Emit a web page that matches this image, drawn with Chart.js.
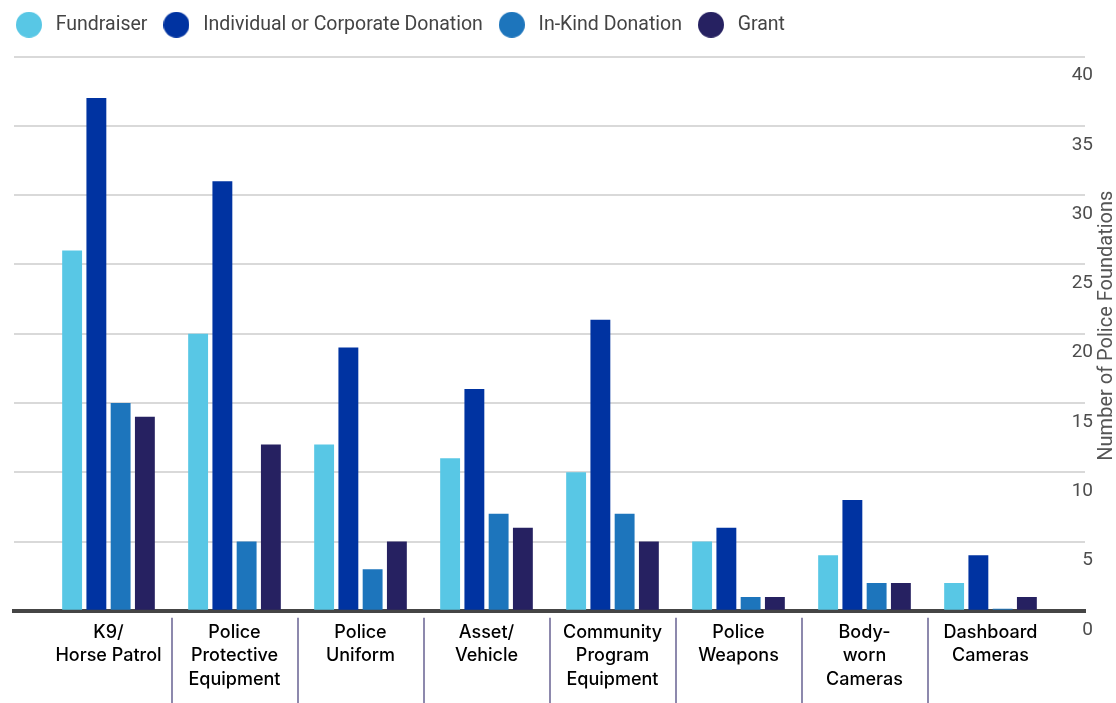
<!DOCTYPE html>
<html>
<head>
<meta charset="utf-8">
<title>Police foundation funding sources</title>
<script src="https://cdn.jsdelivr.net/npm/chart.js@4.4.1/dist/chart.umd.min.js"></script>
<style>
  html, body { margin: 0; padding: 0; background: #fff; }
  #wrap { width: 1116px; height: 703px; position: relative; }
</style>
</head>
<body>
<div id="wrap"><canvas id="fundingChart"></canvas></div>
<script>
// categories, one array of lines per label
const categories = [
  ['K9/', 'Horse Patrol'],
  ['Police', 'Protective', 'Equipment'],
  ['Police', 'Uniform'],
  ['Asset/', 'Vehicle'],
  ['Community', 'Program', 'Equipment'],
  ['Police', 'Weapons'],
  ['Body-', 'worn', 'Cameras'],
  ['Dashboard', 'Cameras']
];
const fundraiser = [26, 20, 12, 11, 10, 5, 4, 2];
const individualCorporate = [37, 31, 19, 16, 21, 6, 8, 4];
const inKind = [15, 5, 3, 7, 7, 1, 2, 0];
const grant = [14, 12, 5, 6, 5, 1, 2, 1];
const yTicks = [0, 5, 10, 15, 20, 25, 30, 35, 40];
const yTitle = 'Number of Police Foundations';

const toPoints = values => values.map((v, i) => ({ x: i, y: v }));

// round legend marker, narrower than its legend box
function dot(color) {
    const c = document.createElement('canvas');
    c.width = 26;
    c.height = 26;
    const g = c.getContext('2d');
    g.fillStyle = color;
    g.beginPath();
    g.arc(13, 13, 13, 0, Math.PI * 2);
    g.fill();
    return c;
}

const fundingData = {
    datasets: [
        { label: 'Fundraiser', data: toPoints(fundraiser), backgroundColor: '#58c7e5', pointStyle: dot('#58c7e5') },
        { label: 'Individual or Corporate Donation', data: toPoints(individualCorporate), backgroundColor: '#0033a1', pointStyle: dot('#0033a1') },
        { label: 'In-Kind Donation', data: toPoints(inKind), backgroundColor: '#1d75bc', pointStyle: dot('#1d75bc'), minBarLength: 2 },
        { label: 'Grant', data: toPoints(grant), backgroundColor: '#262161', pointStyle: dot('#262161') }
    ]
};

// extra room under the legend
const legendGap = {
    id: 'legendGap',
    beforeInit(chart) {
        const fit = chart.legend.fit;
        chart.legend.fit = function () {
            fit.call(this);
            this.height += 12;
        };
    }
};

// separators between the category labels
const dividers = {
    id: 'dividers',
    afterDraw(chart) {
        const { ctx } = chart;
        const x = chart.scales.x;
        ctx.save();
        ctx.strokeStyle = '#8d89ad';
        ctx.lineWidth = 2;
        for (let i = 0; i < categories.length - 1; i++) {
            const px = Math.round(x.getPixelForValue(i + 0.5));
            ctx.beginPath();
            ctx.moveTo(px, x.top + 7);
            ctx.lineTo(px, chart.height);
            ctx.stroke();
        }
        ctx.restore();
    }
};

// y title reads bottom to top on the right side
const rightTitle = {
    id: 'rightTitle',
    afterDraw(chart) {
        const { ctx, chartArea } = chart;
        ctx.save();
        ctx.translate(chartArea.right + 22, (chartArea.top + chartArea.bottom) / 2 - 8);
        ctx.rotate(-Math.PI / 2);
        ctx.font = '20px Roboto';
        ctx.fillStyle = '#555555';
        ctx.textAlign = 'center';
        ctx.textBaseline = 'middle';
        ctx.fillText(yTitle, 0, 0);
        ctx.restore();
    }
};

const fundingConfig = {
    type: 'bar',
    data: fundingData,
    options: {
        responsive: true,
        maintainAspectRatio: false,
        animation: false,
        categoryPercentage: 0.77,
        barPercentage: 0.82,
        layout: {
            padding: { left: 0, right: 15, top: 3, bottom: 2 }
        },
        scales: {
            x: {
                type: 'linear',
                offset: false,
                min: -0.75,
                max: categories.length - 0.25,
                ticks: {
                    stepSize: 1,
                    includeBounds: false,
                    autoSkip: false,
                    maxRotation: 0,
                    padding: 10,
                    color: '#000000',
                    font: { family: 'Inter', size: 18, weight: 500, lineHeight: 1.3 },
                    callback: v => categories[v] || ''
                },
                grid: { display: false, drawTicks: false },
                border: { display: true, color: '#454545', width: 4 }
            },
            y: {
                position: 'right',
                min: yTicks[0],
                max: yTicks[yTicks.length - 1],
                ticks: {
                    stepSize: yTicks[1] - yTicks[0],
                    mirror: true,
                    padding: 8,
                    labelOffset: 19,
                    color: '#4d4d4d',
                    font: { family: 'Roboto', size: 19 }
                },
                grid: {
                    drawTicks: false,
                    color: '#d9d9d9',
                    lineWidth: 2
                },
                border: { display: false }
            },
            yl: {
                position: 'left',
                display: true,
                ticks: { display: false },
                grid: { display: false },
                border: { display: false },
                afterFit: scale => { scale.width = 14; }
            }
        },
        plugins: {
            legend: {
                display: true,
                position: 'top',
                align: 'start',
                labels: {
                    usePointStyle: true,
                    boxHeight: 19,
                    pointStyleWidth: 34,
                    padding: 12,
                    color: '#444444',
                    font: { family: 'Roboto', size: 19.5 }
                }
            },
            tooltip: { enabled: false }
        }
    },
    plugins: [legendGap, dividers, rightTitle]
};

const fundingChart = new Chart(document.querySelector('#fundingChart'), fundingConfig);
</script>
</body>
</html>
